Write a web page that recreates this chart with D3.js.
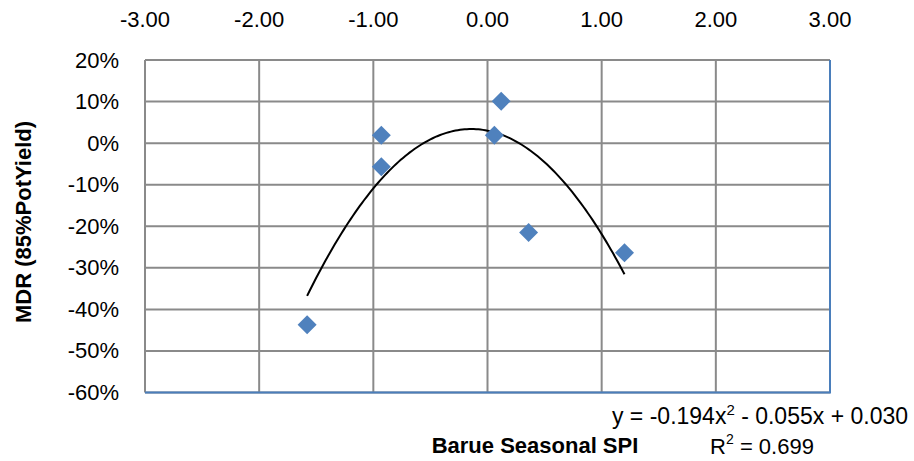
<!doctype html>
<html lang="en">
<head>
<meta charset="UTF-8">
<title>MDR vs Barue Seasonal SPI</title>
<style>
  body { margin: 0; background: #fff; }
  svg text { font-family: "Liberation Sans", Arial, sans-serif; fill: #000; }
</style>
</head>
<body>
<svg width="914" height="461"></svg>
<script src="https://cdn.jsdelivr.net/npm/d3@7/dist/d3.min.js"></script>
<script>
// observed points (SPI, MDR)
const spi = [-1.58, -0.93, -0.93, 0.12, 0.06, 0.36, 1.20]
const mdr = [-0.437, 0.019, -0.057, 0.101, 0.019, -0.215, -0.264]
// polynomial trendline y = a x^2 + b x + c
const trendCoef = [-0.194, -0.055, 0.030]
const xTicks = [-3, -2, -1, 0, 1, 2, 3]
const yTicks = [0.2, 0.1, 0, -0.1, -0.2, -0.3, -0.4, -0.5, -0.6]

const svg = d3.select('svg')
const plotL = 145, plotR = 830, plotT = 60, plotB = 392.5

const x = d3.scaleLinear().domain([-3, 3]).range([plotL, plotR])
const y = d3.scaleLinear().domain([-0.6, 0.2]).range([plotB, plotT])

// plain hyphen instead of d3's unicode minus
const fmtX = d => d3.format('.2f')(d).replace('\u2212', '-')
const fmtY = d => d3.format('.0%')(d).replace('\u2212', '-')

const gridColor = '#8a8a8a'
const axisBlue = '#4a7ebb'

// grid
svg.append('g')
    .selectAll('line')
    .data(xTicks)
    .enter()
    .append('line')
    .attr('x1', d => x(d)).attr('x2', d => x(d))
    .attr('y1', plotT).attr('y2', plotB)
    .attr('stroke', gridColor).attr('stroke-width', 2)

svg.append('g')
    .selectAll('line')
    .data(yTicks)
    .enter()
    .append('line')
    .attr('x1', plotL).attr('x2', plotR)
    .attr('y1', d => y(d)).attr('y2', d => y(d))
    .attr('stroke', gridColor).attr('stroke-width', 2)

// blue axis lines on right and bottom
svg.append('line')
    .attr('x1', plotL).attr('x2', plotR + 1)
    .attr('y1', plotB).attr('y2', plotB)
    .attr('stroke', axisBlue).attr('stroke-width', 2)
svg.append('line')
    .attr('x1', plotR).attr('x2', plotR)
    .attr('y1', plotT).attr('y2', plotB)
    .attr('stroke', axisBlue).attr('stroke-width', 2)

// tick labels
svg.append('g')
    .selectAll('text')
    .data(xTicks)
    .enter()
    .append('text')
    .attr('x', d => x(d))
    .attr('y', 19)
    .attr('text-anchor', 'middle')
    .attr('dominant-baseline', 'central')
    .attr('font-size', 22)
    .text(fmtX)

svg.append('g')
    .selectAll('text')
    .data(yTicks)
    .enter()
    .append('text')
    .attr('x', 119)
    .attr('y', d => y(d))
    .attr('text-anchor', 'end')
    .attr('dominant-baseline', 'central')
    .attr('font-size', 22)
    .text(fmtY)

// trendline
const fit = v => trendCoef[0] * v * v + trendCoef[1] * v + trendCoef[2]
const xs = d3.range(d3.min(spi), d3.max(spi) + 0.001, 0.02)
svg.append('path')
    .datum(xs)
    .attr('fill', 'none')
    .attr('stroke', '#000')
    .attr('stroke-width', 2)
    .attr('d', d3.line().x(d => x(d)).y(d => y(fit(d))))

// markers
svg.append('g')
    .selectAll('path')
    .data(spi.map((v, i) => [v, mdr[i]]))
    .enter()
    .append('path')
    .attr('d', d3.symbol().type(d3.symbolSquare).size(180))
    .attr('transform', d => `translate(${x(d[0])},${y(d[1])}) rotate(45)`)
    .attr('fill', '#4f81bd')

// axis titles
svg.append('text')
    .attr('transform', 'translate(23,222) rotate(-90)')
    .attr('text-anchor', 'middle')
    .attr('dominant-baseline', 'central')
    .attr('font-size', 22)
    .attr('font-weight', 'bold')
    .text('MDR (85%PotYield)')

svg.append('text')
    .attr('x', 535)
    .attr('y', 445)
    .attr('text-anchor', 'middle')
    .attr('dominant-baseline', 'central')
    .attr('font-size', 22)
    .attr('font-weight', 'bold')
    .text('Barue Seasonal SPI')

// equation label
const eq = svg.append('text')
    .attr('x', 760)
    .attr('y', 416)
    .attr('text-anchor', 'middle')
    .attr('dominant-baseline', 'central')
    .attr('font-size', 23)
eq.append('tspan').text('y = -0.194x')
eq.append('tspan').attr('dy', -7).attr('font-size', 15).text('2')
eq.append('tspan').attr('dy', 7).text(' - 0.055x + 0.030')

const r2 = svg.append('text')
    .attr('x', 762)
    .attr('y', 446)
    .attr('text-anchor', 'middle')
    .attr('dominant-baseline', 'central')
    .attr('font-size', 22)
r2.append('tspan').text('R')
r2.append('tspan').attr('dy', -7).attr('font-size', 14).text('2')
r2.append('tspan').attr('dy', 7).text(' = 0.699')
</script>
</body>
</html>
